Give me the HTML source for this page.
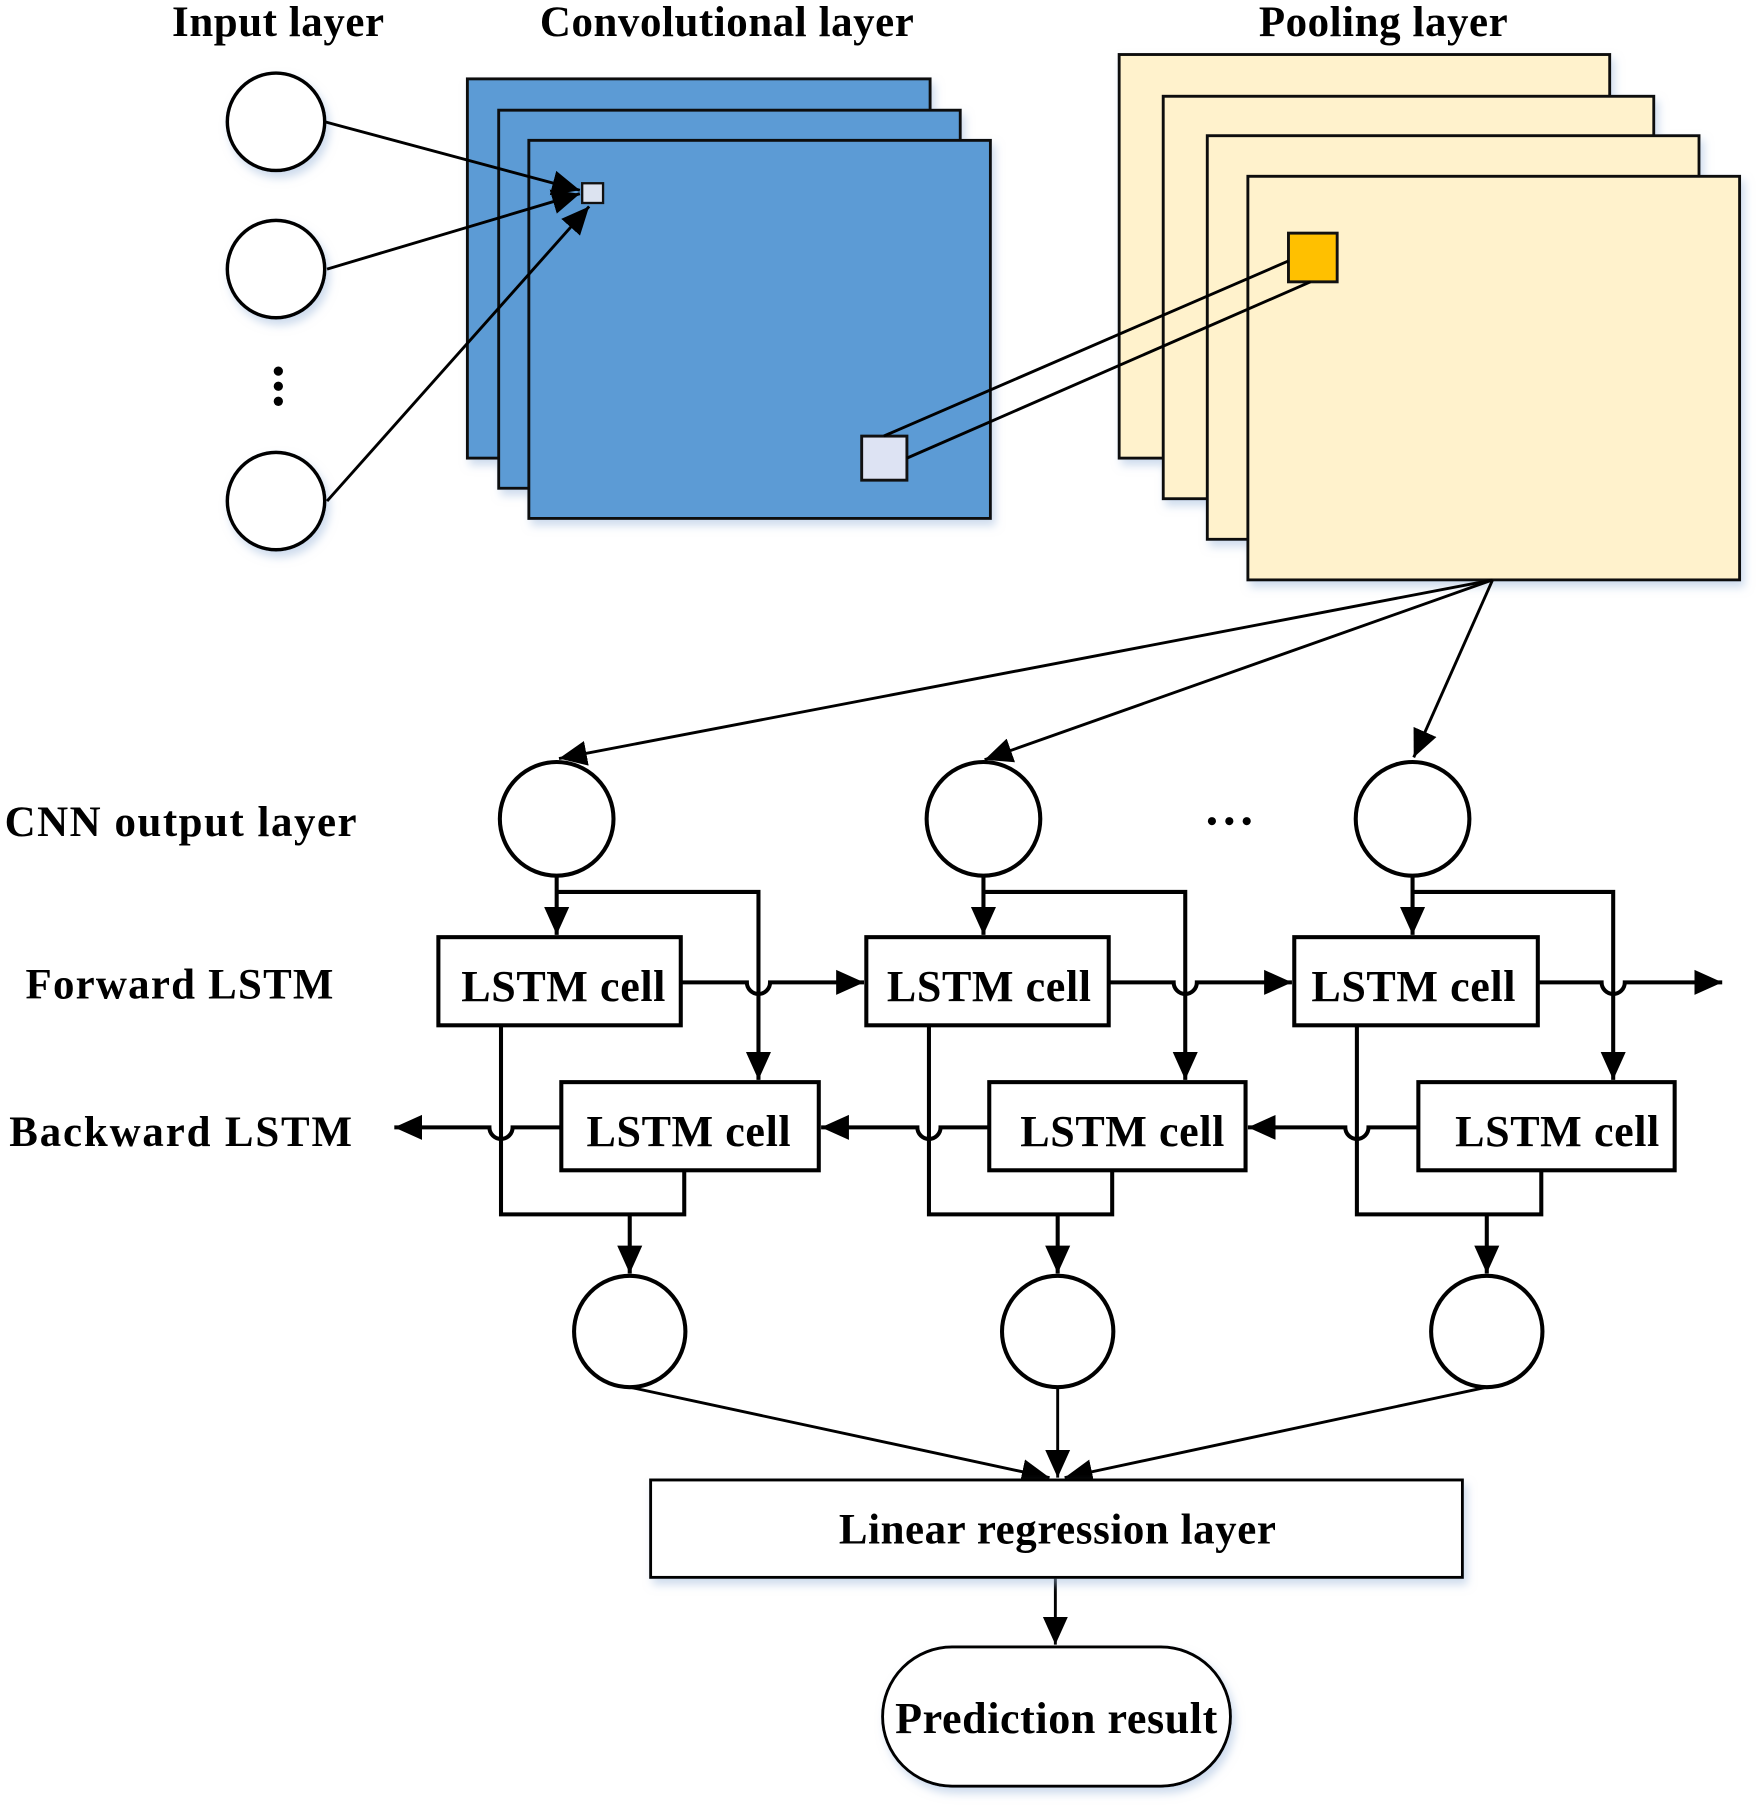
<!DOCTYPE html>
<html><head><meta charset="utf-8"><style>
html,body{margin:0;padding:0;background:#fff;}
svg{display:block;}
text{font-family:"Liberation Serif",serif;fill:#000;font-weight:bold;letter-spacing:0.5px;}
</style></head><body>
<svg width="1757" height="1814" viewBox="0 0 1515 1564" preserveAspectRatio="none" xmlns="http://www.w3.org/2000/svg">
<defs>
<marker id="b" viewBox="0 0 10 10" refX="10" refY="5" markerWidth="24" markerHeight="24" markerUnits="userSpaceOnUse" orient="auto">
<path d="M0,0.5L10,5L0,9.5z" fill="#000"/></marker>
<filter id="sh" x="-10%" y="-10%" width="130%" height="130%"><feDropShadow dx="3" dy="5" stdDeviation="4" flood-color="#9db8dc" flood-opacity="0.5"/></filter>
</defs>
<g font-size="37" text-anchor="middle">
<text x="240" y="31">Input layer</text>
<text x="627" y="31">Convolutional layer</text>
<text x="1193" y="31">Pooling layer</text>
</g>
<g fill="#fff" stroke="#000" stroke-width="3" filter="url(#sh)">
<circle cx="238" cy="105" r="42"/><circle cx="238" cy="232" r="42"/><circle cx="238" cy="432" r="42"/>
</g>
<g fill="#000"><circle cx="240" cy="320" r="4"/><circle cx="240" cy="333" r="4"/><circle cx="240" cy="346" r="4"/></g>
<g fill="#5b9bd5" stroke="#111" stroke-width="2.5" filter="url(#sh)">
<rect x="403" y="68" width="399" height="327"/>
<rect x="430" y="95" width="398" height="326"/>
<rect x="456" y="121" width="398" height="326"/>
</g>
<rect x="502" y="158" width="18" height="17" fill="#dce3f0" stroke="#111" stroke-width="2"/>
<rect x="743" y="376" width="39" height="38" fill="#dde3f3" stroke="#111" stroke-width="2.5"/>
<g stroke="#000" stroke-width="2.5">
<line x1="280" y1="105" x2="500" y2="164" marker-end="url(#b)"/>
<line x1="282" y1="232" x2="500" y2="167" marker-end="url(#b)"/>
<line x1="282" y1="432" x2="508" y2="178" marker-end="url(#b)"/>
</g>
<g fill="#fff2cc" stroke="#111" stroke-width="2.5" filter="url(#sh)">
<rect x="965" y="47" width="423" height="348"/>
<rect x="1003" y="83" width="423" height="347"/>
<rect x="1041" y="117" width="424" height="348"/>
<rect x="1076" y="152" width="424" height="348"/>
</g>
<rect x="1111" y="201" width="42" height="42" fill="#ffc000" stroke="#111" stroke-width="2.5"/>
<g stroke="#000" stroke-width="2.5">
<line x1="762" y1="376" x2="1111" y2="225"/>
<line x1="782" y1="395" x2="1130" y2="243"/>
<line x1="1287" y1="500" x2="482" y2="654" marker-end="url(#b)"/>
<line x1="1287" y1="500" x2="849" y2="655" marker-end="url(#b)"/>
<line x1="1287" y1="500" x2="1219" y2="653" marker-end="url(#b)"/>
</g>
<g font-size="37">
<text x="4" y="721" textLength="304">CNN output layer</text>
<text x="22" y="861" textLength="266">Forward LSTM</text>
<text x="8" y="988" textLength="296">Backward LSTM</text>
</g>
<g fill="#000"><circle cx="1045" cy="708" r="3.5"/><circle cx="1060" cy="708" r="3.5"/><circle cx="1075" cy="708" r="3.5"/></g>
<g fill="#fff" stroke="#000" stroke-width="3.5">
<circle cx="480" cy="706" r="49"/><circle cx="848" cy="706" r="49"/><circle cx="1218" cy="706" r="49"/>
<circle cx="543" cy="1148" r="48"/><circle cx="912" cy="1148" r="48"/><circle cx="1282" cy="1148" r="48"/>
</g>
<g fill="none" stroke="#000" stroke-width="3.5">
<line x1="480" y1="755" x2="480" y2="806" marker-end="url(#b)"/>
<polyline points="480,769 654,769 654,931" marker-end="url(#b)"/>
<path d="M587,847H644a10,10 0 0 0 20,0H745" marker-end="url(#b)"/>
<polyline points="432,884 432,1047 590,1047 590,1009"/>
<line x1="543" y1="1047" x2="543" y2="1098" marker-end="url(#b)"/>
<path d="M484,972H442a10,10 0 0 1 -20,0H340" marker-end="url(#b)"/>
<line x1="848" y1="755" x2="848" y2="806" marker-end="url(#b)"/>
<polyline points="848,769 1022,769 1022,931" marker-end="url(#b)"/>
<path d="M956,847H1012a10,10 0 0 0 20,0H1114" marker-end="url(#b)"/>
<polyline points="801,884 801,1047 959,1047 959,1009"/>
<line x1="912" y1="1047" x2="912" y2="1098" marker-end="url(#b)"/>
<path d="M853,972H811a10,10 0 0 1 -20,0H708" marker-end="url(#b)"/>
<line x1="1218" y1="755" x2="1218" y2="806" marker-end="url(#b)"/>
<polyline points="1218,769 1391,769 1391,931" marker-end="url(#b)"/>
<path d="M1326,847H1381a10,10 0 0 0 20,0H1485" marker-end="url(#b)"/>
<polyline points="1170,884 1170,1047 1329,1047 1329,1009"/>
<line x1="1282" y1="1047" x2="1282" y2="1098" marker-end="url(#b)"/>
<path d="M1223,972H1180a10,10 0 0 1 -20,0H1076" marker-end="url(#b)"/>
</g>
<g fill="#fff" stroke="#000" stroke-width="3.5">
<rect x="378" y="808" width="209" height="76"/>
<rect x="747" y="808" width="209" height="76"/>
<rect x="1116" y="808" width="210" height="76"/>
<rect x="484" y="933" width="222" height="76"/>
<rect x="853" y="933" width="221" height="76"/>
<rect x="1223" y="933" width="221" height="76"/>
</g>
<g font-size="38" text-anchor="middle">
<text x="486" y="863">LSTM cell</text>
<text x="853" y="863">LSTM cell</text>
<text x="1219" y="863">LSTM cell</text>
<text x="594" y="988">LSTM cell</text>
<text x="968" y="988">LSTM cell</text>
<text x="1343" y="988">LSTM cell</text>
</g>
<g stroke="#000" stroke-width="2.5">
<line x1="543" y1="1196" x2="905" y2="1274" marker-end="url(#b)"/>
<line x1="912" y1="1196" x2="912" y2="1274" marker-end="url(#b)"/>
<line x1="1282" y1="1196" x2="918" y2="1274" marker-end="url(#b)"/>
<line x1="910" y1="1360" x2="910" y2="1418" marker-end="url(#b)"/>
</g>
<rect x="561" y="1276" width="700" height="84" fill="#fff" stroke="#000" stroke-width="2.5" filter="url(#sh)"/>
<text x="912" y="1331" font-size="37" text-anchor="middle">Linear regression layer</text>
<rect x="761" y="1420" width="300" height="120" rx="60" ry="60" fill="#fff" stroke="#000" stroke-width="2.5" filter="url(#sh)"/>
<text x="911" y="1494" font-size="38" text-anchor="middle">Prediction result</text>
</svg>
</body></html>
